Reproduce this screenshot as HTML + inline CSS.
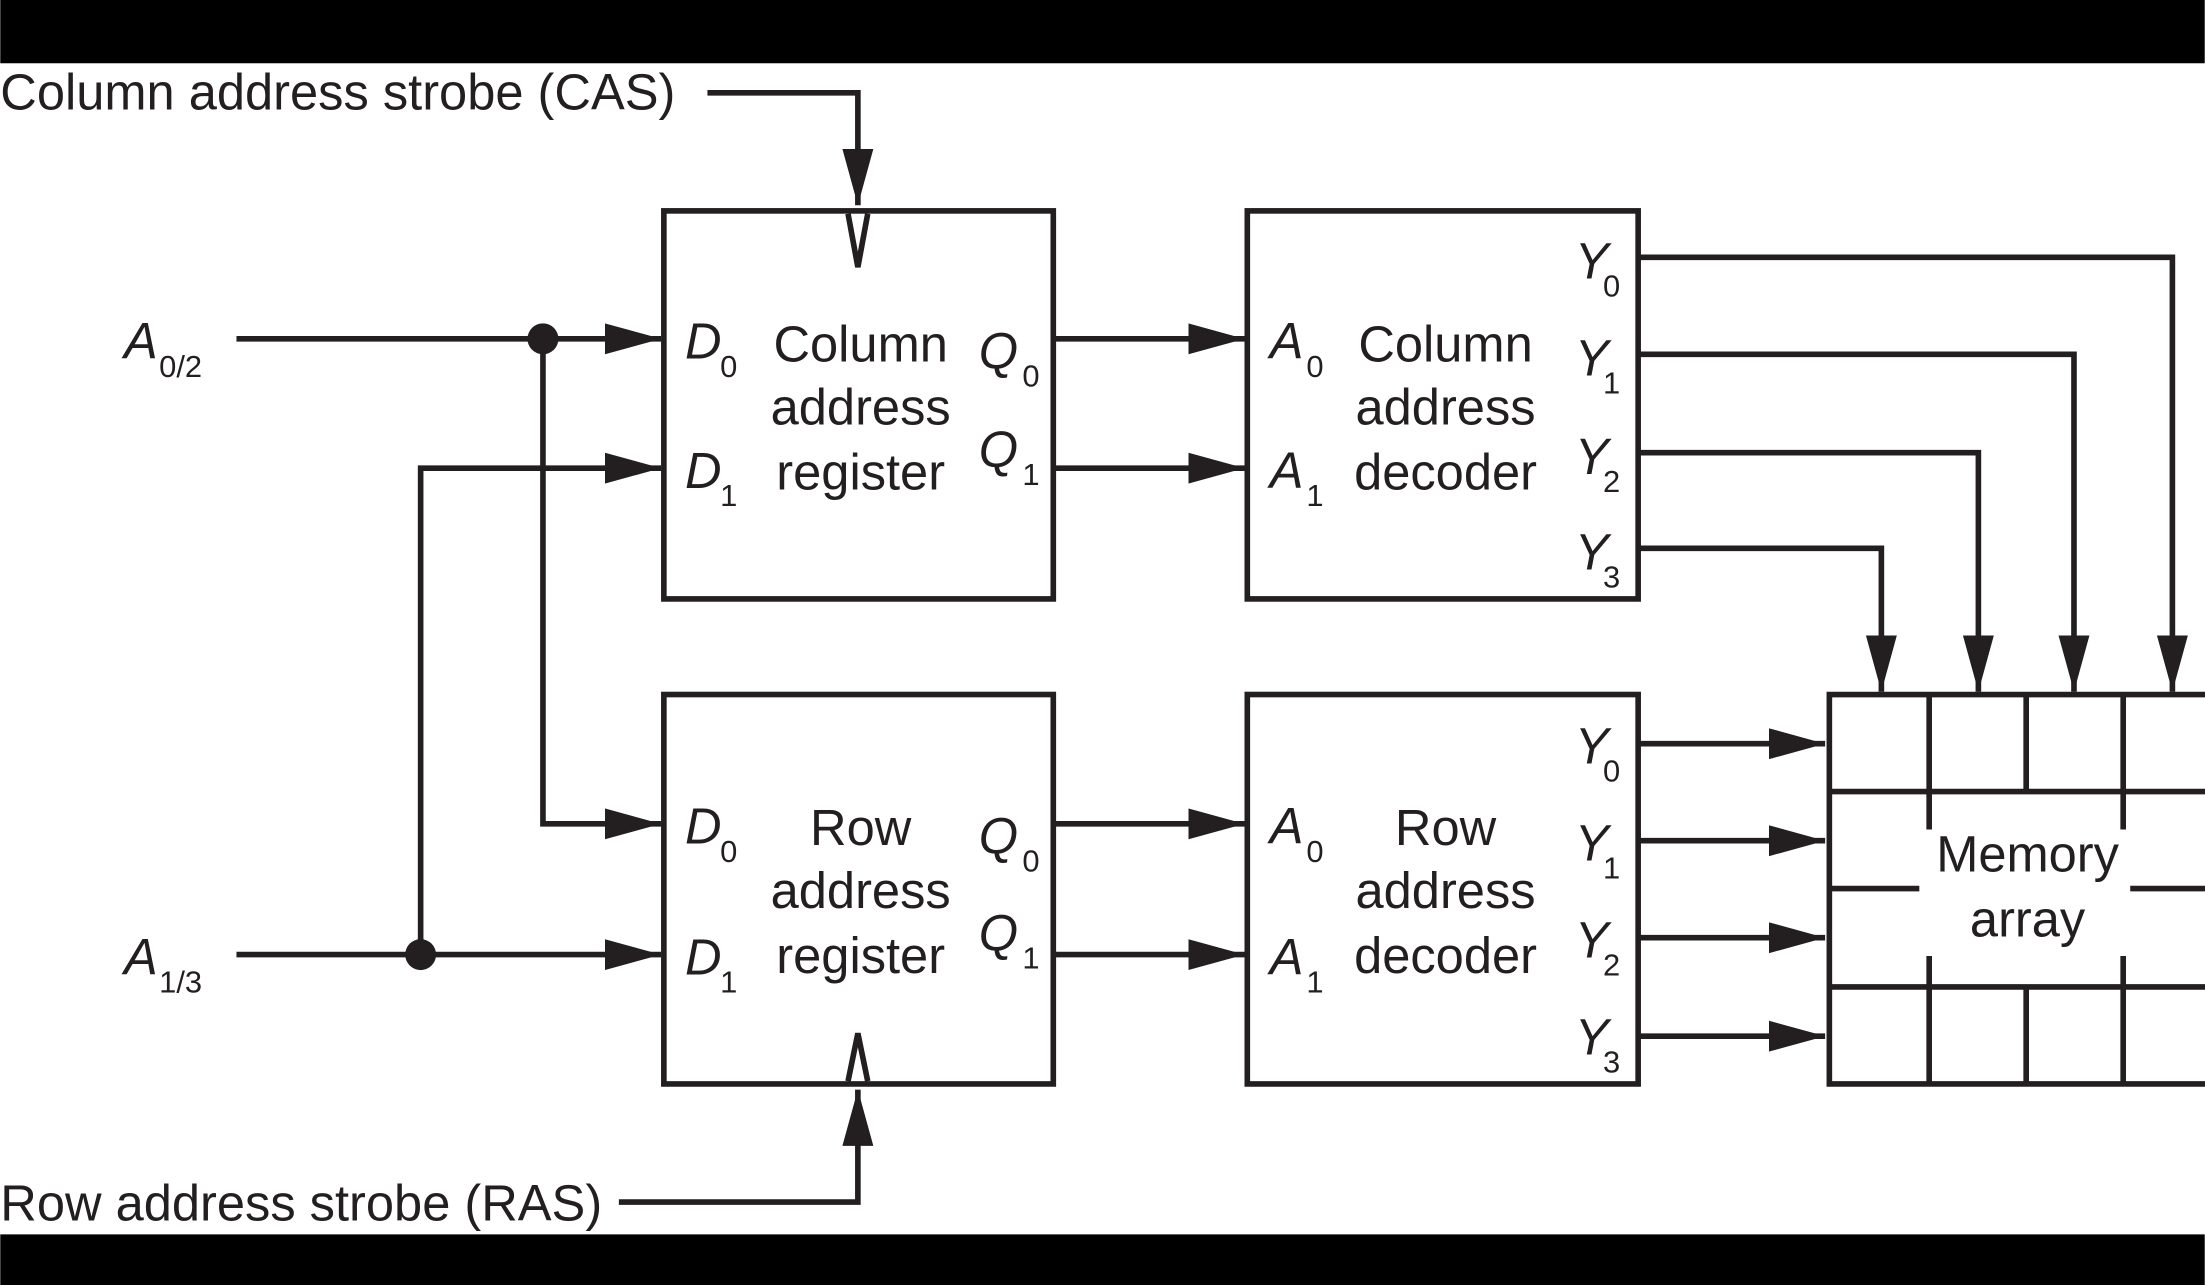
<!DOCTYPE html>
<html><head><meta charset="utf-8"><style>
html,body{margin:0;padding:0;background:#fff;}
svg{display:block;}
text{font-family:"Liberation Sans",sans-serif;fill:#231f20;}
.t{font-size:36px;}
.i{font-style:italic;font-size:36px;}
.s{font-size:22px;}
</style></head><body>
<svg width="2205" height="1285" viewBox="0 0 1568 914" xmlns="http://www.w3.org/2000/svg">
<defs><marker id="a" markerWidth="10" markerHeight="8" refX="10" refY="4" orient="auto" markerUnits="userSpaceOnUse" viewBox="0 0 10 8"><path d="M0,0L10,4L0,8z" fill="#231f20"/></marker>
<marker id="b" markerWidth="40" markerHeight="22" refX="40" refY="11" orient="auto" markerUnits="userSpaceOnUse"><path d="M0,0L40,11L0,22z" fill="#231f20"/></marker></defs>
<rect x="0" y="0" width="1568" height="45" fill="#000"/>
<rect x="0" y="878" width="1568" height="36" fill="#000"/>
<g stroke="#231f20" stroke-width="4" fill="none">
<rect x="472" y="150" width="277" height="276"/>
<rect x="472" y="494" width="277" height="277"/>
<rect x="887" y="150" width="278" height="276"/>
<rect x="887" y="494" width="278" height="277"/>
<path d="M603,152L610,190L617,152"/>
<path d="M603,769L610,735L617,769"/>
<path d="M503,66H610V146" marker-end="url(#b)"/>
<path d="M440,855H610V775" marker-end="url(#b)"/>
<path d="M168,241H470" marker-end="url(#b)"/>
<path d="M386,241V586H470" marker-end="url(#b)"/>
<path d="M299,679V333H470" marker-end="url(#b)"/>
<path d="M168,679H470" marker-end="url(#b)"/>
<path d="M749,241H885" marker-end="url(#b)"/>
<path d="M749,333H885" marker-end="url(#b)"/>
<path d="M749,586H885" marker-end="url(#b)"/>
<path d="M749,679H885" marker-end="url(#b)"/>
<path d="M1165,183H1545V492" marker-end="url(#b)"/>
<path d="M1165,252H1475V492" marker-end="url(#b)"/>
<path d="M1165,322H1407V492" marker-end="url(#b)"/>
<path d="M1165,390H1338V492" marker-end="url(#b)"/>
<path d="M1165,529H1298" marker-end="url(#b)"/>
<path d="M1165,598H1298" marker-end="url(#b)"/>
<path d="M1165,667H1298" marker-end="url(#b)"/>
<path d="M1165,737H1298" marker-end="url(#b)"/>
<path d="M1572,494H1301V771H1572"/>
<path d="M1301,563H1572M1301,702H1572M1301,632H1365M1515,632H1572"/>
<path d="M1372,494V590M1441,494V563M1510,494V590M1372,680V771M1441,702V771M1510,680V771"/>
</g>
<circle cx="386" cy="241" r="11" fill="#231f20"/>
<circle cx="299" cy="679" r="11" fill="#231f20"/>
<text class="t" x="0" y="78">Column address strobe (CAS)</text>
<text class="t" x="0" y="868">Row address strobe (RAS)</text>
<text class="i" x="88" y="255">A</text><text class="s" x="113" y="268">0/2</text>
<text class="i" x="88" y="693">A</text><text class="s" x="113" y="706">1/3</text>
<g class="t" text-anchor="middle">
<text class="t" x="612" y="257">Column</text><text class="t" x="612" y="302">address</text><text class="t" x="612" y="348">register</text>
<text class="t" x="612" y="601">Row</text><text class="t" x="612" y="646">address</text><text class="t" x="612" y="692">register</text>
<text class="t" x="1028" y="257">Column</text><text class="t" x="1028" y="302">address</text><text class="t" x="1028" y="348">decoder</text>
<text class="t" x="1028" y="601">Row</text><text class="t" x="1028" y="646">address</text><text class="t" x="1028" y="692">decoder</text>
<text class="t" x="1442" y="620">Memory</text><text class="t" x="1442" y="666">array</text>
</g>
<g>
<text class="i" x="487" y="255">D</text><text class="s" x="512" y="268">0</text>
<text class="i" x="487" y="347">D</text><text class="s" x="512" y="360">1</text>
<text class="i" x="487" y="600">D</text><text class="s" x="512" y="613">0</text>
<text class="i" x="487" y="693">D</text><text class="s" x="512" y="706">1</text>
<text class="i" x="696" y="262">Q</text><text class="s" x="727" y="275">0</text>
<text class="i" x="696" y="332">Q</text><text class="s" x="727" y="345">1</text>
<text class="i" x="696" y="607">Q</text><text class="s" x="727" y="620">0</text>
<text class="i" x="696" y="676">Q</text><text class="s" x="727" y="689">1</text>
<text class="i" x="903" y="255">A</text><text class="s" x="929" y="268">0</text>
<text class="i" x="903" y="347">A</text><text class="s" x="929" y="360">1</text>
<text class="i" x="903" y="600">A</text><text class="s" x="929" y="613">0</text>
<text class="i" x="903" y="693">A</text><text class="s" x="929" y="706">1</text>
<text class="i" x="1120" y="198">Y</text><text class="s" x="1140" y="211">0</text>
<text class="i" x="1120" y="267">Y</text><text class="s" x="1140" y="280">1</text>
<text class="i" x="1120" y="337">Y</text><text class="s" x="1140" y="350">2</text>
<text class="i" x="1120" y="405">Y</text><text class="s" x="1140" y="418">3</text>
<text class="i" x="1120" y="543">Y</text><text class="s" x="1140" y="556">0</text>
<text class="i" x="1120" y="612">Y</text><text class="s" x="1140" y="625">1</text>
<text class="i" x="1120" y="681">Y</text><text class="s" x="1140" y="694">2</text>
<text class="i" x="1120" y="750">Y</text><text class="s" x="1140" y="763">3</text>
</g>
</svg>
</body></html>
